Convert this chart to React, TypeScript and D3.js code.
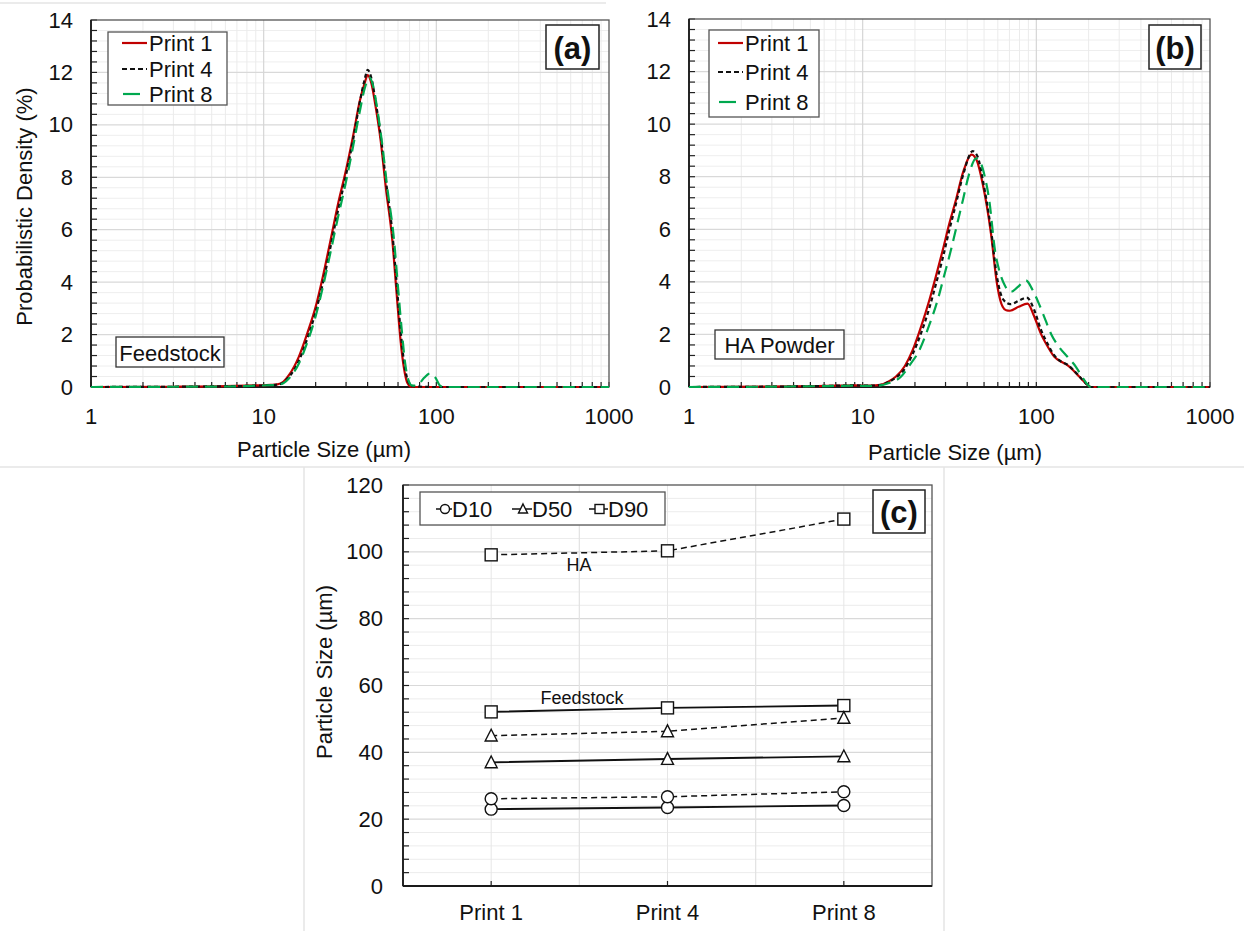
import React from "react";
import * as d3 from "d3";

const FONT = "'Liberation Sans', Arial, Helvetica, sans-serif";

// ---------- Panel (a): Feedstock ----------
const a1X = [1, 3, 6, 9, 11, 12, 13, 14, 16, 18, 20, 22, 24.4, 27, 29.8, 33, 36, 38.5, 40, 42, 44.5, 47.6, 51, 55.6, 59, 62, 65, 68, 72, 100, 1000];
const a1Y = [0, 0.01, 0.03, 0.06, 0.08, 0.1, 0.2, 0.45, 1.16, 2.1, 3.06, 4.2, 5.6, 7.0, 8.2, 9.6, 10.9, 11.6, 11.9, 11.6, 10.7, 9.4, 7.6, 5.6, 3.5, 1.8, 0.7, 0.15, 0, 0, 0];
const a4X = [1, 3, 6, 9, 11, 12, 13, 14, 16, 18, 20, 22, 24.4, 27, 29.8, 33, 36, 38.5, 40, 42, 44.5, 47.6, 51, 55.6, 59, 62, 65, 68, 72, 100, 1000];
const a4Y = [0, 0.01, 0.03, 0.05, 0.07, 0.09, 0.17, 0.38, 1.0, 1.9, 2.85, 3.95, 5.35, 6.75, 8.0, 9.45, 10.85, 11.75, 12.1, 11.8, 10.9, 9.6, 7.9, 5.9, 3.9, 2.2, 0.95, 0.3, 0.03, 0, 0];
const a8X = [1, 3, 6, 9, 11, 12, 13, 14, 16, 18, 20, 22, 24.4, 27, 29.8, 33, 36, 38.5, 41, 43, 45.5, 48.5, 52, 56.9, 60, 63, 66, 69, 72, 76, 80, 85, 92, 99, 105, 110, 1000];
const a8Y = [0, 0.01, 0.02, 0.05, 0.07, 0.08, 0.14, 0.32, 0.9, 1.75, 2.7, 3.8, 5.15, 6.5, 7.75, 9.2, 10.5, 11.4, 11.8, 11.5, 10.6, 9.3, 7.6, 5.6, 3.8, 2.2, 0.9, 0.25, 0.06, 0.05, 0.15, 0.35, 0.52, 0.35, 0.05, 0, 0];

// ---------- Panel (b): HA Powder ----------
const b1X = [1, 4, 7, 9, 11, 12.7, 14, 15.5, 17.5, 19.4, 21.7, 24.2, 26.5, 28.9, 31.5, 34.4, 38, 42.4, 45.5, 49.1, 54.8, 59.3, 62, 64, 67, 70.5, 79, 89, 97, 106, 116, 127, 140, 151, 165, 177, 192, 206, 300, 1000];
const b1Y = [0, 0.02, 0.05, 0.06, 0.05, 0.08, 0.2, 0.39, 0.8, 1.4, 2.3, 3.3, 4.25, 5.2, 6.2, 7.1, 8.2, 8.84, 8.6, 7.73, 5.84, 3.94, 3.3, 3.05, 2.92, 2.9, 3.05, 3.17, 2.7, 2.04, 1.55, 1.15, 0.95, 0.83, 0.6, 0.39, 0.15, 0, 0, 0];
const b4X = [1, 4, 7, 9, 11, 12.7, 14, 15.5, 17.5, 19.4, 21.7, 24.2, 26.5, 28.9, 31.5, 34.4, 38, 43, 46, 49.1, 54.8, 59.3, 62, 65, 71, 80, 88, 97, 106, 116, 127, 140, 151, 165, 177, 192, 206, 300, 1000];
const b4Y = [0, 0.02, 0.05, 0.06, 0.05, 0.08, 0.18, 0.35, 0.7, 1.25, 2.05, 3.0, 3.95, 4.9, 5.95, 6.95, 8.1, 8.97, 8.75, 7.9, 6.0, 4.2, 3.6, 3.3, 3.15, 3.3, 3.4, 2.95, 2.2, 1.65, 1.2, 0.95, 0.85, 0.62, 0.4, 0.15, 0, 0, 0];
const b8X = [1, 4, 7, 9, 11, 12.7, 14, 16.6, 18.5, 21.2, 24, 27, 29.5, 32.2, 35, 37.7, 41, 45, 48, 50.5, 53.6, 57.8, 62, 66, 71.4, 78, 87.1, 95, 103, 111, 122, 136, 151, 169, 185, 206, 300, 1000];
const b8Y = [0, 0.02, 0.04, 0.05, 0.04, 0.06, 0.14, 0.39, 0.8, 1.4, 2.3, 3.3, 4.25, 5.2, 6.2, 7.09, 8.1, 8.7, 8.5, 8.0, 7.09, 5.2, 4.3, 3.85, 3.62, 3.8, 4.06, 3.7, 3.2, 2.67, 2.0, 1.5, 1.15, 0.77, 0.35, 0, 0, 0];

const seriesNames = ["Print 1", "Print 4", "Print 8"];
const xTicksLog = [1, 10, 100, 1000];
const yTicksDensity = [0, 2, 4, 6, 8, 10, 12, 14];

// ---------- Panel (c): D10/D50/D90 ----------
const cCategories = ["Print 1", "Print 4", "Print 8"];
const feedD10 = [23.0, 23.5, 24.1];
const feedD50 = [37.0, 38.0, 38.8];
const feedD90 = [52.1, 53.3, 54.0];
const haD10 = [26.1, 26.7, 28.2];
const haD50 = [45.0, 46.3, 50.3];
const haD90 = [99.1, 100.3, 109.8];
const yTicksSize = [0, 20, 40, 60, 80, 100, 120];

const styles = [
  { color: "#c00000", dash: "none", width: 2.2 },
  { color: "#111111", dash: "4,3", width: 2.2 },
  { color: "#00a84f", dash: "12,7", width: 2.2 },
];

type PanelProps = {
  left: number; right: number; top: number; bottom: number;
  data: { x: number[]; y: number[] }[];
  tag: string;
  tagBox: [number, number, number, number];
  label: string;
  labelBox: [number, number, number, number];
  legendBox: [number, number, number, number];
  legendYs: number[];
  legendLineX: [number, number];
  yTitle: boolean;
  xTitleX: number;
  xTitleY: number;
};

function LogPanel(p: PanelProps) {
  const x = d3.scaleLog().domain([1, 1000]).range([p.left, p.right]);
  const y = d3.scaleLinear().domain([0, 14]).range([p.bottom, p.top]);
  const minorX: number[] = [];
  for (let d = 0; d < 3; d++) for (let k = 2; k <= 9; k++) minorX.push(k * Math.pow(10, d));
  const minorY: number[] = [];
  for (let i = 1; i < 35; i++) {
    const v = +(i * 0.4).toFixed(2);
    if (Math.abs(v / 2 - Math.round(v / 2)) > 1e-6) minorY.push(v);
  }
  const line = d3
    .line<[number, number]>()
    .x((d) => x(d[0]))
    .y((d) => y(d[1]))
    .curve(d3.curveMonotoneX);
  return (
    <g>
      {/* grid */}
      {minorY.map((v) => (
        <line key={"my" + v} x1={p.left} x2={p.right} y1={y(v)} y2={y(v)} stroke="#eeeeee" strokeWidth={1} />
      ))}
      {minorX.map((v) => (
        <line key={"mx" + v} x1={x(v)} x2={x(v)} y1={p.top} y2={p.bottom} stroke="#ebebeb" strokeWidth={1} />
      ))}
      {yTicksDensity.slice(1, -1).map((v) => (
        <line key={"gy" + v} x1={p.left} x2={p.right} y1={y(v)} y2={y(v)} stroke="#d9d9d9" strokeWidth={1.2} />
      ))}
      {xTicksLog.slice(1, -1).map((v) => (
        <line key={"gx" + v} x1={x(v)} x2={x(v)} y1={p.top} y2={p.bottom} stroke="#d6d6d6" strokeWidth={1.2} />
      ))}
      {/* ticks */}
      {minorY.concat(yTicksDensity).map((v) => (
        <line key={"ty" + v} x1={p.left} x2={p.left + 6} y1={y(v)} y2={y(v)} stroke="#222" strokeWidth={1.2} />
      ))}
      {minorX.concat(xTicksLog).map((v) => (
        <line key={"tx" + v} x1={x(v)} x2={x(v)} y1={p.bottom} y2={p.bottom - 5} stroke="#222" strokeWidth={1.2} />
      ))}
      {/* frame */}
      <rect x={p.left} y={p.top} width={p.right - p.left} height={p.bottom - p.top} fill="none" stroke="#555" strokeWidth={1.3} />
      <line x1={p.left} x2={p.left} y1={p.top} y2={p.bottom} stroke="#1a1a1a" strokeWidth={1.8} />
      <line x1={p.left} x2={p.right} y1={p.bottom} y2={p.bottom} stroke="#1a1a1a" strokeWidth={1.8} />
      {/* curves */}
      {p.data.map((s, i) => (
        <path
          key={"c" + i}
          d={line(s.x.map((v, j) => [v, s.y[j]] as [number, number])) || ""}
          fill="none"
          stroke={styles[i].color}
          strokeWidth={styles[i].width}
          strokeDasharray={styles[i].dash}
        />
      ))}
      {/* tick labels */}
      {yTicksDensity.map((v) => (
        <text key={"ly" + v} x={p.left - 18} y={y(v)} textAnchor="end" dominantBaseline="central" fontSize={22} fontFamily={FONT} fill="#111">
          {v}
        </text>
      ))}
      {xTicksLog.map((v) => (
        <text key={"lx" + v} x={x(v)} y={p.bottom + 29} textAnchor="middle" dominantBaseline="central" fontSize={22} fontFamily={FONT} fill="#111">
          {v}
        </text>
      ))}
      <text x={p.xTitleX} y={p.xTitleY} textAnchor="middle" dominantBaseline="central" fontSize={22} fontFamily={FONT} fill="#111">
        Particle Size (µm)
      </text>
      {p.yTitle && (
        <text transform={`translate(24,${(p.top + p.bottom) / 2 + 3}) rotate(-90)`} textAnchor="middle" dominantBaseline="central" fontSize={22} fontFamily={FONT} fill="#111">
          Probabilistic Density (%)
        </text>
      )}
      {/* legend */}
      <rect x={p.legendBox[0]} y={p.legendBox[1]} width={p.legendBox[2]} height={p.legendBox[3]} fill="#fff" stroke="#555" strokeWidth={1.3} />
      {seriesNames.map((n, i) => (
        <g key={"lg" + i}>
          <line
            x1={p.legendLineX[0] + (i === 2 ? 1 : 0)}
            x2={i === 2 ? p.legendLineX[0] + 18 : p.legendLineX[1]}
            y1={p.legendYs[i]}
            y2={p.legendYs[i]}
            stroke={styles[i].color}
            strokeWidth={2.2}
            strokeDasharray={i === 1 ? "5,3" : "none"}
          />
          <text x={p.legendLineX[1] + 2} y={p.legendYs[i]} dominantBaseline="central" fontSize={22} fontFamily={FONT} fill="#111">
            {n}
          </text>
        </g>
      ))}
      {/* tag */}
      <rect x={p.tagBox[0]} y={p.tagBox[1]} width={p.tagBox[2]} height={p.tagBox[3]} fill="#fff" stroke="#222" strokeWidth={1.5} />
      <text x={p.tagBox[0] + p.tagBox[2] / 2} y={p.tagBox[1] + p.tagBox[3] / 2 + 1} textAnchor="middle" dominantBaseline="central" fontSize={31} fontWeight="bold" fontFamily={FONT} fill="#111">
        {p.tag}
      </text>
      {/* sample label */}
      <rect x={p.labelBox[0]} y={p.labelBox[1]} width={p.labelBox[2]} height={p.labelBox[3]} fill="#fff" stroke="#333" strokeWidth={1.3} />
      <text x={p.labelBox[0] + p.labelBox[2] / 2} y={p.labelBox[1] + p.labelBox[3] / 2 + 1} textAnchor="middle" dominantBaseline="central" fontSize={22} fontFamily={FONT} fill="#111">
        {p.label}
      </text>
    </g>
  );
}

function Marker({ kind, cx, cy, s }: { kind: string; cx: number; cy: number; s: number }) {
  const common = { fill: "#fff", stroke: "#111", strokeWidth: 1.4 };
  if (kind === "circle") return <circle cx={cx} cy={cy} r={s / 2} {...common} />;
  if (kind === "square") return <rect x={cx - s / 2} y={cy - s / 2} width={s} height={s} {...common} />;
  const h = s * 0.9;
  return <path d={`M${cx},${cy - h / 2 - 1} L${cx + s / 2},${cy + h / 2} L${cx - s / 2},${cy + h / 2} Z`} {...common} />;
}

function PanelC() {
  const left = 403, right = 932, top = 485, bottom = 886;
  const x = d3.scalePoint<string>().domain(cCategories).range([left, right]).padding(0.5);
  const y = d3.scaleLinear().domain([0, 120]).range([bottom, top]);
  const step = x.step();
  const minorY = d3.range(4, 120, 4).filter((v) => v % 20 !== 0);
  const bounds = cCategories.slice(0, -1).map((c) => (x(c) as number) + step / 2);
  const line = d3
    .line<number>()
    .x((_, i) => x(cCategories[i]) as number)
    .y((d) => y(d))
    .curve(d3.curveLinear);
  const groups = [
    { vals: feedD10, kind: "circle", dash: "none" },
    { vals: feedD50, kind: "triangle", dash: "none" },
    { vals: feedD90, kind: "square", dash: "none" },
    { vals: haD10, kind: "circle", dash: "6,4" },
    { vals: haD50, kind: "triangle", dash: "6,4" },
    { vals: haD90, kind: "square", dash: "6,4" },
  ];
  const legendItems = [
    { kind: "circle", name: "D10", lx: 436, tx: 452 },
    { kind: "triangle", name: "D50", lx: 512, tx: 532 },
    { kind: "square", name: "D90", lx: 589, tx: 608 },
  ];
  return (
    <g>
      {minorY.map((v) => (
        <line key={"m" + v} x1={left} x2={right} y1={y(v)} y2={y(v)} stroke="#ececec" strokeWidth={1} />
      ))}
      {yTicksSize.slice(1, -1).map((v) => (
        <line key={"g" + v} x1={left} x2={right} y1={y(v)} y2={y(v)} stroke="#d9d9d9" strokeWidth={1.2} />
      ))}
      {cCategories.map((c) => (
        <line key={"vc" + c} x1={x(c) as number} x2={x(c) as number} y1={top} y2={bottom} stroke="#e6e6e6" strokeWidth={1} />
      ))}
      {bounds.map((b, i) => (
        <line key={"vb" + i} x1={b} x2={b} y1={top} y2={bottom} stroke="#e2e2e2" strokeWidth={1.2} />
      ))}
      {minorY.concat(yTicksSize).map((v) => (
        <line key={"t" + v} x1={left} x2={left + 6} y1={y(v)} y2={y(v)} stroke="#222" strokeWidth={1.2} />
      ))}
      {cCategories.map((c) => (
        <line key={"tc" + c} x1={x(c) as number} x2={x(c) as number} y1={bottom} y2={bottom - 5} stroke="#222" strokeWidth={1.2} />
      ))}
      <rect x={left} y={top} width={right - left} height={bottom - top} fill="none" stroke="#555" strokeWidth={1.3} />
      <line x1={left} x2={left} y1={top} y2={bottom} stroke="#1a1a1a" strokeWidth={1.8} />
      <line x1={left} x2={right} y1={bottom} y2={bottom} stroke="#1a1a1a" strokeWidth={1.8} />
      {groups.map((g, i) => (
        <g key={"sg" + i}>
          <path d={line(g.vals) || ""} fill="none" stroke="#111" strokeWidth={g.dash === "none" ? 1.9 : 1.5} strokeDasharray={g.dash} />
          {g.vals.map((v, j) => (
            <Marker key={j} kind={g.kind} cx={x(cCategories[j]) as number} cy={y(v)} s={12} />
          ))}
        </g>
      ))}
      <text x={579} y={565} textAnchor="middle" dominantBaseline="central" fontSize={18} fontFamily={FONT} fill="#111">HA</text>
      <text x={582} y={698} textAnchor="middle" dominantBaseline="central" fontSize={18} fontFamily={FONT} fill="#111">Feedstock</text>
      {yTicksSize.map((v) => (
        <text key={"ly" + v} x={left - 20} y={y(v)} textAnchor="end" dominantBaseline="central" fontSize={22} fontFamily={FONT} fill="#111">
          {v}
        </text>
      ))}
      {cCategories.map((c) => (
        <text key={"lx" + c} x={x(c) as number} y={bottom + 26} textAnchor="middle" dominantBaseline="central" fontSize={22} fontFamily={FONT} fill="#111">
          {c}
        </text>
      ))}
      <text transform={`translate(324,672) rotate(-90)`} textAnchor="middle" dominantBaseline="central" fontSize={22} fontFamily={FONT} fill="#111">
        Particle Size (µm)
      </text>
      {/* legend */}
      <rect x={420} y={492} width={245} height={33} fill="#fff" stroke="#555" strokeWidth={1.3} />
      {legendItems.map((l) => (
        <g key={l.name}>
          <line x1={l.lx} x2={l.tx} y1={509} y2={509} stroke="#111" strokeWidth={1.5} />
          <Marker kind={l.kind} cx={(l.lx + l.tx) / 2 + 1} cy={509} s={9} />
          <text x={l.tx} y={509} dominantBaseline="central" fontSize={22} fontFamily={FONT} fill="#111">
            {l.name}
          </text>
        </g>
      ))}
      <rect x={873} y={490} width={52} height={43} fill="#fff" stroke="#222" strokeWidth={1.5} />
      <text x={899} y={512} textAnchor="middle" dominantBaseline="central" fontSize={31} fontWeight="bold" fontFamily={FONT} fill="#111">
        (c)
      </text>
    </g>
  );
}

export default function App() {
  return (
    <svg width={1244} height={931} style={{ position: "absolute", left: 0, top: 0, background: "#fff" }}>
      <rect x={0} y={0} width={1244} height={931} fill="#fff" />
      {/* faint subfigure frames */}
      <line x1={0} x2={606} y1={3} y2={3} stroke="#e4e4e4" strokeWidth={1.5} />
      <line x1={0} x2={1244} y1={467} y2={467} stroke="#e4e4e4" strokeWidth={1.5} />
      <line x1={304} x2={304} y1={467} y2={931} stroke="#e4e4e4" strokeWidth={1.5} />
      <line x1={944} x2={944} y1={467} y2={931} stroke="#e4e4e4" strokeWidth={1.5} />
      <LogPanel
        left={91} right={609} top={20} bottom={387}
        data={[{ x: a1X, y: a1Y }, { x: a4X, y: a4Y }, { x: a8X, y: a8Y }]}
        tag="(a)" tagBox={[546, 25, 53, 44]}
        label="Feedstock" labelBox={[116, 337, 108, 30]}
        legendBox={[108, 32, 119, 73]}
        legendYs={[43, 69, 94]}
        legendLineX={[122, 147]}
        yTitle={true}
        xTitleX={324}
        xTitleY={449}
      />
      <LogPanel
        left={689} right={1210} top={19} bottom={387}
        data={[{ x: b1X, y: b1Y }, { x: b4X, y: b4Y }, { x: b8X, y: b8Y }]}
        tag="(b)" tagBox={[1149, 25, 52, 44]}
        label="HA Powder" labelBox={[715, 330, 129, 29]}
        legendBox={[709, 30, 110, 87]}
        legendYs={[43, 72, 102]}
        legendLineX={[718, 743]}
        yTitle={false}
        xTitleX={955}
        xTitleY={452}
      />
      <PanelC />
    </svg>
  );
}
